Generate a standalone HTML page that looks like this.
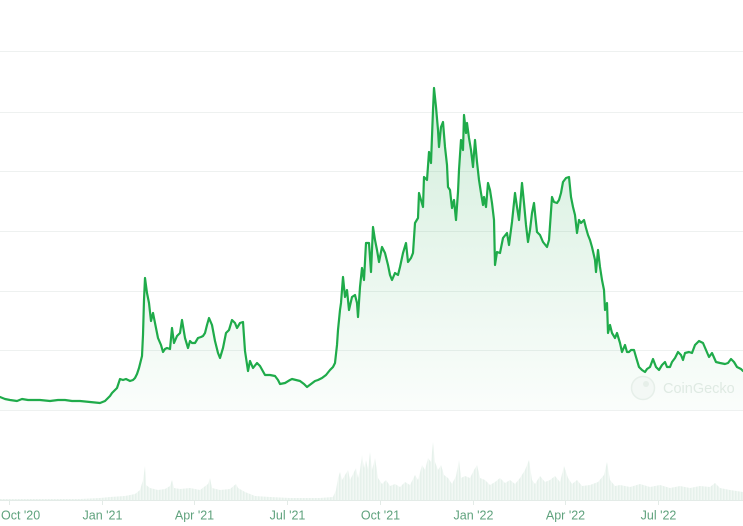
<!DOCTYPE html>
<html><head><meta charset="utf-8"><style>
html,body{margin:0;padding:0;background:#fff;}
svg{display:block;}
</style></head><body>
<svg width="743" height="526" viewBox="0 0 743 526" xmlns="http://www.w3.org/2000/svg">
<defs>
<linearGradient id="g" x1="0" y1="88" x2="0" y2="410" gradientUnits="userSpaceOnUse">
<stop offset="0" stop-color="#22a84f" stop-opacity="0.20"/>
<stop offset="1" stop-color="#22a84f" stop-opacity="0.02"/>
</linearGradient>
<pattern id="vb" width="3" height="10" patternUnits="userSpaceOnUse">
<rect x="0" y="0" width="3" height="10" fill="#f2f8f4"/>
<rect x="0" y="0" width="1.5" height="10" fill="#e6f1eb"/>
</pattern>
</defs>
<g stroke="#eef1f0" stroke-width="1">
<line x1="0" y1="51.5" x2="743" y2="51.5"/>
<line x1="0" y1="112.5" x2="743" y2="112.5"/>
<line x1="0" y1="171.5" x2="743" y2="171.5"/>
<line x1="0" y1="231.5" x2="743" y2="231.5"/>
<line x1="0" y1="291.5" x2="743" y2="291.5"/>
<line x1="0" y1="350.5" x2="743" y2="350.5"/>
<line x1="0" y1="410.5" x2="743" y2="410.5"/>
</g>
<polygon fill="url(#vb)" points="0,499 40,499 80,499 100,498 110,497 125,496 135,494 140,490 143,480 145,466 146,485 150,488 158,490 165,489 170,486 172,480 174,488 180,489 190,488 200,490 208,484 210,478 212,488 220,490 230,489 236,484 238,488 245,492 255,496 270,497 290,498 320,498 333,497 336,490 338,478 340,472 342,480 345,475 348,470 350,480 353,474 356,468 358,478 360,470 362,455 364,468 366,460 368,470 370,452 372,470 375,458 378,478 382,484 386,480 390,486 395,484 400,487 405,482 410,485 415,475 418,480 422,465 425,470 428,458 431,462 433,442 435,462 438,470 441,465 444,475 448,478 452,484 456,476 459,460 461,478 465,476 470,478 474,470 477,465 480,478 485,480 490,485 495,482 500,478 505,483 510,480 515,484 520,478 525,470 529,460 532,480 535,484 540,476 545,482 550,480 555,476 560,482 564,466 568,478 572,484 577,480 582,486 590,485 598,482 604,475 607,462 610,480 615,486 620,485 630,487 640,484 650,487 660,485 670,488 680,486 690,488 700,486 710,487 715,483 720,488 730,490 743,492 743,500 0,500"/>
<g stroke="#e3ebe7" stroke-width="1">
<line x1="0" y1="500.5" x2="743" y2="500.5"/>
<line x1="9.5" y1="500" x2="9.5" y2="505"/>
<line x1="102.5" y1="500" x2="102.5" y2="505"/>
<line x1="194.5" y1="500" x2="194.5" y2="505"/>
<line x1="287.5" y1="500" x2="287.5" y2="505"/>
<line x1="380.5" y1="500" x2="380.5" y2="505"/>
<line x1="473.5" y1="500" x2="473.5" y2="505"/>
<line x1="565.5" y1="500" x2="565.5" y2="505"/>
<line x1="658.5" y1="500" x2="658.5" y2="505"/>
</g>
<path fill="url(#g)" d="M0,397 L5,399 L10,400 L17,401 L22,399 L28,400 L33,400 L40,400 L50,401 L58,400 L65,400 L72,401 L80,401 L90,402 L100,403 L105,401 L110,396 L112,393 L115,390 L117,388 L119,382 L120,379 L123,380 L126,379 L130,381 L133,380 L135,378 L137,374 L139,368 L141,360 L142,356 L143,335 L144,300 L145,278 L147,293 L149,303 L151,321 L153,313 L155,323 L158,338 L161,345 L163,352 L165,349 L167,348 L170,349 L172,328 L174,343 L177,336 L180,333 L182,320 L185,338 L188,348 L190,341 L192,343 L195,343 L198,338 L201,337 L203,336 L205,333 L207,325 L209,318 L212,325 L215,341 L218,353 L220,358 L223,348 L226,333 L229,330 L232,320 L235,323 L237,328 L240,323 L243,322 L245,351 L248,371 L250,361 L253,368 L257,363 L260,366 L265,375 L270,375 L275,376 L278,380 L280,384 L285,383 L290,380 L292,379 L296,380 L300,381 L304,384 L307,387 L311,384 L315,381 L318,380 L322,378 L326,375 L330,370 L333,367 L335,363 L337,345 L338,330 L340,310 L341,303 L343,277 L345,297 L347,290 L349,310 L352,297 L355,295 L357,303 L358,317 L360,287 L362,268 L364,280 L366,243 L369,243 L371,272 L373,227 L375,240 L377,250 L379,262 L382,247 L385,253 L388,265 L390,275 L392,280 L395,273 L398,275 L400,267 L403,253 L406,243 L408,262 L411,258 L413,253 L415,223 L418,218 L419,193 L421,200 L423,207 L424,177 L427,180 L429,152 L431,163 L433,110 L434,88 L436,107 L438,130 L439,147 L441,127 L443,122 L445,147 L447,165 L448,187 L450,190 L452,208 L454,200 L456,220 L458,192 L459,170 L461,140 L463,150 L464,115 L466,133 L467,123 L469,138 L471,150 L473,167 L475,140 L477,162 L479,180 L481,193 L483,205 L484,197 L486,207 L488,183 L490,190 L492,203 L494,220 L495,265 L497,252 L500,253 L503,238 L507,233 L509,245 L512,222 L515,193 L517,207 L519,220 L522,183 L524,203 L526,225 L528,242 L530,230 L532,213 L534,203 L535,213 L537,232 L540,235 L543,242 L547,247 L549,240 L552,197 L554,202 L557,203 L559,200 L561,193 L563,182 L566,178 L569,177 L571,197 L573,207 L575,215 L577,233 L579,220 L581,223 L584,220 L586,228 L588,235 L590,240 L592,247 L595,260 L596,272 L598,250 L600,267 L602,280 L604,290 L605,310 L607,303 L608,333 L610,325 L612,333 L615,338 L617,333 L620,343 L622,352 L625,345 L627,352 L629,352 L631,350 L634,350 L636,357 L639,367 L642,370 L645,372 L647,369 L650,367 L653,359 L656,367 L659,370 L662,365 L665,362 L667,367 L670,367 L672,362 L675,358 L678,352 L681,355 L683,360 L685,353 L689,352 L692,353 L695,345 L699,341 L703,343 L706,350 L709,357 L712,353 L716,362 L720,363 L725,364 L728,363 L731,359 L734,362 L737,367 L741,369 L743,371 L743,410 L0,410 Z"/>
<g>
<circle cx="643" cy="388" r="11.5" fill="#f3f8f5" stroke="#e6efe9" stroke-width="1.5"/>
<circle cx="646" cy="384" r="3" fill="#e6efe9"/>
<text x="663" y="393" font-family="'Liberation Sans', sans-serif" font-size="14.5" fill="#dfeae3">CoinGecko</text>
</g>
<path fill="none" stroke="#1fab4a" stroke-width="2.2" stroke-linejoin="round" stroke-linecap="round" d="M0,397 L5,399 L10,400 L17,401 L22,399 L28,400 L33,400 L40,400 L50,401 L58,400 L65,400 L72,401 L80,401 L90,402 L100,403 L105,401 L110,396 L112,393 L115,390 L117,388 L119,382 L120,379 L123,380 L126,379 L130,381 L133,380 L135,378 L137,374 L139,368 L141,360 L142,356 L143,335 L144,300 L145,278 L147,293 L149,303 L151,321 L153,313 L155,323 L158,338 L161,345 L163,352 L165,349 L167,348 L170,349 L172,328 L174,343 L177,336 L180,333 L182,320 L185,338 L188,348 L190,341 L192,343 L195,343 L198,338 L201,337 L203,336 L205,333 L207,325 L209,318 L212,325 L215,341 L218,353 L220,358 L223,348 L226,333 L229,330 L232,320 L235,323 L237,328 L240,323 L243,322 L245,351 L248,371 L250,361 L253,368 L257,363 L260,366 L265,375 L270,375 L275,376 L278,380 L280,384 L285,383 L290,380 L292,379 L296,380 L300,381 L304,384 L307,387 L311,384 L315,381 L318,380 L322,378 L326,375 L330,370 L333,367 L335,363 L337,345 L338,330 L340,310 L341,303 L343,277 L345,297 L347,290 L349,310 L352,297 L355,295 L357,303 L358,317 L360,287 L362,268 L364,280 L366,243 L369,243 L371,272 L373,227 L375,240 L377,250 L379,262 L382,247 L385,253 L388,265 L390,275 L392,280 L395,273 L398,275 L400,267 L403,253 L406,243 L408,262 L411,258 L413,253 L415,223 L418,218 L419,193 L421,200 L423,207 L424,177 L427,180 L429,152 L431,163 L433,110 L434,88 L436,107 L438,130 L439,147 L441,127 L443,122 L445,147 L447,165 L448,187 L450,190 L452,208 L454,200 L456,220 L458,192 L459,170 L461,140 L463,150 L464,115 L466,133 L467,123 L469,138 L471,150 L473,167 L475,140 L477,162 L479,180 L481,193 L483,205 L484,197 L486,207 L488,183 L490,190 L492,203 L494,220 L495,265 L497,252 L500,253 L503,238 L507,233 L509,245 L512,222 L515,193 L517,207 L519,220 L522,183 L524,203 L526,225 L528,242 L530,230 L532,213 L534,203 L535,213 L537,232 L540,235 L543,242 L547,247 L549,240 L552,197 L554,202 L557,203 L559,200 L561,193 L563,182 L566,178 L569,177 L571,197 L573,207 L575,215 L577,233 L579,220 L581,223 L584,220 L586,228 L588,235 L590,240 L592,247 L595,260 L596,272 L598,250 L600,267 L602,280 L604,290 L605,310 L607,303 L608,333 L610,325 L612,333 L615,338 L617,333 L620,343 L622,352 L625,345 L627,352 L629,352 L631,350 L634,350 L636,357 L639,367 L642,370 L645,372 L647,369 L650,367 L653,359 L656,367 L659,370 L662,365 L665,362 L667,367 L670,367 L672,362 L675,358 L678,352 L681,355 L683,360 L685,353 L689,352 L692,353 L695,345 L699,341 L703,343 L706,350 L709,357 L712,353 L716,362 L720,363 L725,364 L728,363 L731,359 L734,362 L737,367 L741,369 L743,371"/>
<g font-family="'Liberation Sans', sans-serif" font-size="12.5" fill="#5fa27d">
<text x="1" y="519.5">Oct '20</text>
<text x="102.5" y="519.5" text-anchor="middle">Jan '21</text>
<text x="194.5" y="519.5" text-anchor="middle">Apr '21</text>
<text x="287.5" y="519.5" text-anchor="middle">Jul '21</text>
<text x="380.5" y="519.5" text-anchor="middle">Oct '21</text>
<text x="473.5" y="519.5" text-anchor="middle">Jan '22</text>
<text x="565.5" y="519.5" text-anchor="middle">Apr '22</text>
<text x="658.5" y="519.5" text-anchor="middle">Jul '22</text>
</g>
</svg>
</body></html>
